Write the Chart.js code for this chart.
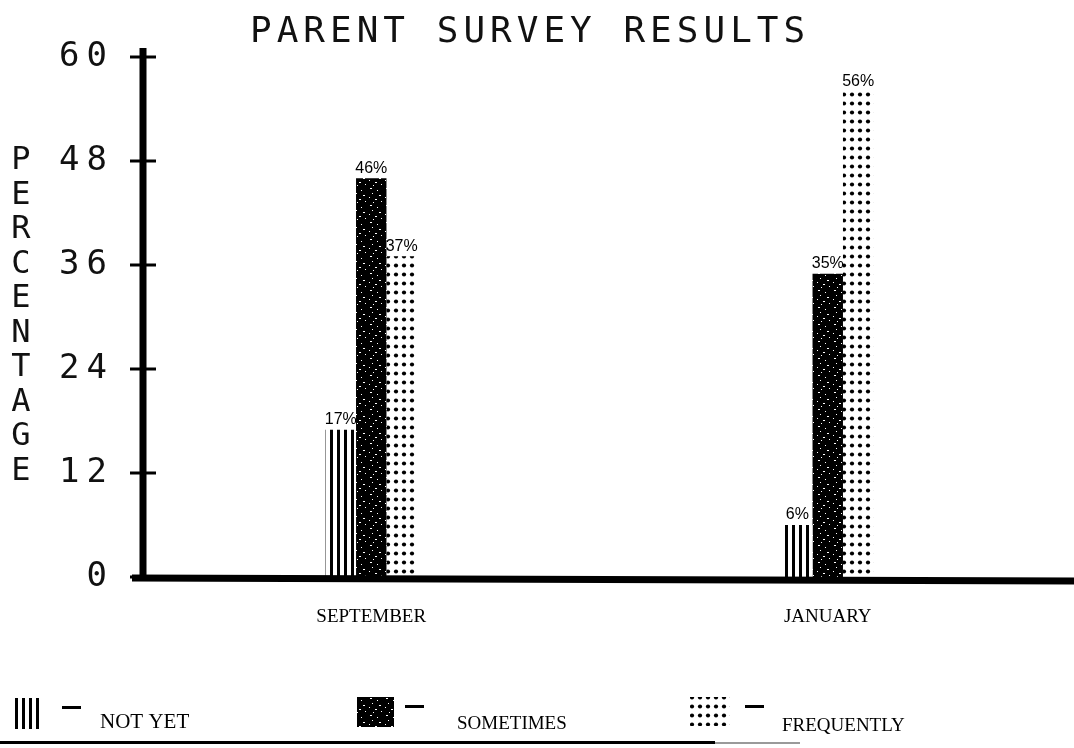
<!DOCTYPE html>
<html>
<head>
<meta charset="utf-8">
<title>Parent Survey Results</title>
<script src="https://cdn.jsdelivr.net/npm/chart.js@4.4.1/dist/chart.umd.min.js"></script>
<style>
  html, body { margin: 0; padding: 0; background: #fff; }
  #wrap { width: 1074px; height: 748px; position: relative; }
</style>
</head>
<body>
<div id="wrap"><canvas id="surveyChart"></canvas></div>
<script>
// values
const months = ['SEPTEMBER', 'JANUARY'];
const notYet = [17, 6];
const sometimes = [46, 35];
const frequently = [37, 56];
const seriesNames = ['NOT YET', 'SOMETIMES', 'FREQUENTLY'];
const yTicks = [0, 12, 24, 36, 48, 60];
const yTitle = 'PERCENTAGE';
const chartTitle = 'PARENT SURVEY RESULTS';

const MONO = '"DejaVu Sans Mono", monospace';
const SERIF = '"Liberation Serif", "Times New Roman", serif';
const SANS = '"Liberation Sans", Arial, sans-serif';

// small tiles used as canvas patterns for the bar fills
function makeTile(w, h, paint) {
    const c = document.createElement('canvas');
    c.width = w;
    c.height = h;
    const g = c.getContext('2d');
    g.fillStyle = '#fff';
    g.fillRect(0, 0, w, h);
    g.fillStyle = '#000';
    paint(g);
    return c;
}

const canvas = document.getElementById('surveyChart');
const mainCtx = canvas.getContext('2d');

const stripeTile = makeTile(7, 4, g => g.fillRect(1, 0, 3, 4));
const speckles = [[2,1,2],[9,3,1],[4,6,1],[11,8,2],[1,10,1],[7,12,2],[13,14,1],[5,15,1]];
const speckleTile = makeTile(16, 17, g => {
    g.fillRect(0, 0, 16, 17);
    g.fillStyle = '#fff';
    speckles.forEach(([x, y, w]) => g.fillRect(x, y, w, 1));
});
const dotTile = makeTile(8, 9, g => {
    g.beginPath();
    g.arc(4, 4.5, 2.1, 0, Math.PI * 2);
    g.fill();
});

const fills = [
    mainCtx.createPattern(stripeTile, 'repeat'),
    mainCtx.createPattern(speckleTile, 'repeat'),
    mainCtx.createPattern(dotTile, 'repeat')
];

// draws a string with extra letter spacing, left aligned at x
function spacedText(ctx, text, x, y, spacing) {
    let cx = x;
    for (const ch of text) {
        ctx.fillText(ch, cx, y);
        cx += ctx.measureText(ch).width + spacing;
    }
    return cx - spacing;
}
function spacedWidth(ctx, text, spacing) {
    let w = 0;
    for (const ch of text) w += ctx.measureText(ch).width + spacing;
    return w - spacing;
}

const decorations = {
    id: 'decorations',
    beforeDraw(chart) {
        const ctx = chart.ctx;
        ctx.save();
        ctx.fillStyle = '#fff';
        ctx.fillRect(0, 0, chart.width, chart.height);
        ctx.restore();
    },
    afterDatasetsDraw(chart) {
        const ctx = chart.ctx;
        const area = chart.chartArea;
        const yScale = chart.scales.y;
        const y0 = yScale.getPixelForValue(0);

        ctx.save();
        ctx.fillStyle = '#111';
        ctx.strokeStyle = '#000';

        // x axis (runs off the right edge)
        ctx.lineWidth = 7;
        ctx.beginPath();
        ctx.moveTo(132, y0 + 1);
        ctx.lineTo(chart.width, y0 + 4);
        ctx.stroke();

        // y axis
        ctx.beginPath();
        ctx.moveTo(area.left, yScale.getPixelForValue(60) - 9);
        ctx.lineTo(area.left, y0 + 4);
        ctx.stroke();

        // tick crosses and tick labels
        ctx.lineWidth = 3;
        ctx.font = '34px ' + MONO;
        ctx.textBaseline = 'middle';
        yTicks.forEach(v => {
            const py = yScale.getPixelForValue(v);
            ctx.beginPath();
            ctx.moveTo(area.left - 13, py);
            ctx.lineTo(area.left + 13, py);
            ctx.stroke();
            const label = String(v);
            const w = spacedWidth(ctx, label, 7);
            spacedText(ctx, label, 107 - w, py, 7);
        });

        // value labels above the bars
        ctx.fillStyle = '#000';
        ctx.font = '16px ' + SANS;
        ctx.textAlign = 'center';
        ctx.textBaseline = 'bottom';
        chart.data.datasets.forEach((ds, i) => {
            const meta = chart.getDatasetMeta(i);
            meta.data.forEach((bar, j) => {
                ctx.fillText(ds.data[j] + '%', bar.x, bar.y - 2);
            });
        });
        ctx.restore();
    },
    afterDraw(chart) {
        const ctx = chart.ctx;
        ctx.save();
        ctx.fillStyle = '#111';

        // title
        ctx.font = '36px ' + MONO;
        ctx.textBaseline = 'alphabetic';
        spacedText(ctx, chartTitle, 250, 42, 5);

        // stacked axis title
        ctx.font = '32px ' + MONO;
        ctx.textAlign = 'center';
        ctx.textBaseline = 'middle';
        [...yTitle].forEach((ch, i) => ctx.fillText(ch, 21, 161 + i * 34.5));

        // legend
        const spots = [
            {sx: 14, sw: 27, sy: 698, sh: 31, dx: 62, tx: 100, ty: 728, size: 21},
            {sx: 357, sw: 37, sy: 697, sh: 30, dx: 405, tx: 457, ty: 729, size: 19},
            {sx: 690, sw: 40, sy: 697, sh: 29, dx: 745, tx: 782, ty: 731, size: 19}
        ];
        ctx.textAlign = 'left';
        ctx.textBaseline = 'alphabetic';
        chart.data.datasets.forEach((ds, i) => {
            const s = spots[i];
            ctx.fillStyle = ds.backgroundColor;
            ctx.fillRect(s.sx, s.sy, s.sw, s.sh);
            ctx.fillStyle = '#000';
            ctx.fillRect(s.dx, s.sy + 8, 19, 3);
            ctx.font = s.size + 'px ' + SERIF;
            ctx.fillText(ds.label, s.tx, s.ty);
        });

        // rule under the legend
        ctx.fillRect(0, 741, 715, 3);
        ctx.fillStyle = '#9a9a9a';
        ctx.fillRect(715, 742, 85, 2);
        ctx.restore();
    }
};

new Chart(canvas, {
    type: 'bar',
    data: {
        labels: months,
        datasets: [
            {label: seriesNames[0], data: notYet, backgroundColor: fills[0]},
            {label: seriesNames[1], data: sometimes, backgroundColor: fills[1]},
            {label: seriesNames[2], data: frequently, backgroundColor: fills[2]}
        ]
    },
    options: {
        responsive: true,
        maintainAspectRatio: false,
        animation: false,
        layout: {padding: {top: 57, right: 18, left: 0, bottom: 0}},
        datasets: {
            bar: {barPercentage: 1, categoryPercentage: 0.2, borderWidth: 0}
        },
        plugins: {
            legend: {display: false},
            title: {display: false},
            tooltip: {enabled: false}
        },
        scales: {
            x: {
                grid: {display: false, drawTicks: false},
                border: {display: false},
                ticks: {
                    color: '#000',
                    padding: 29,
                    font: {family: SERIF, size: 19}
                },
                afterFit(scale) { scale.height = 171; }
            },
            y: {
                min: 0,
                max: 60,
                grid: {display: false, drawTicks: false},
                border: {display: false},
                ticks: {display: false},
                afterBuildTicks(scale) { scale.ticks = yTicks.map(v => ({value: v})); },
                afterFit(scale) { scale.width = 143; }
            }
        }
    },
    plugins: [decorations]
});
</script>
</body>
</html>
